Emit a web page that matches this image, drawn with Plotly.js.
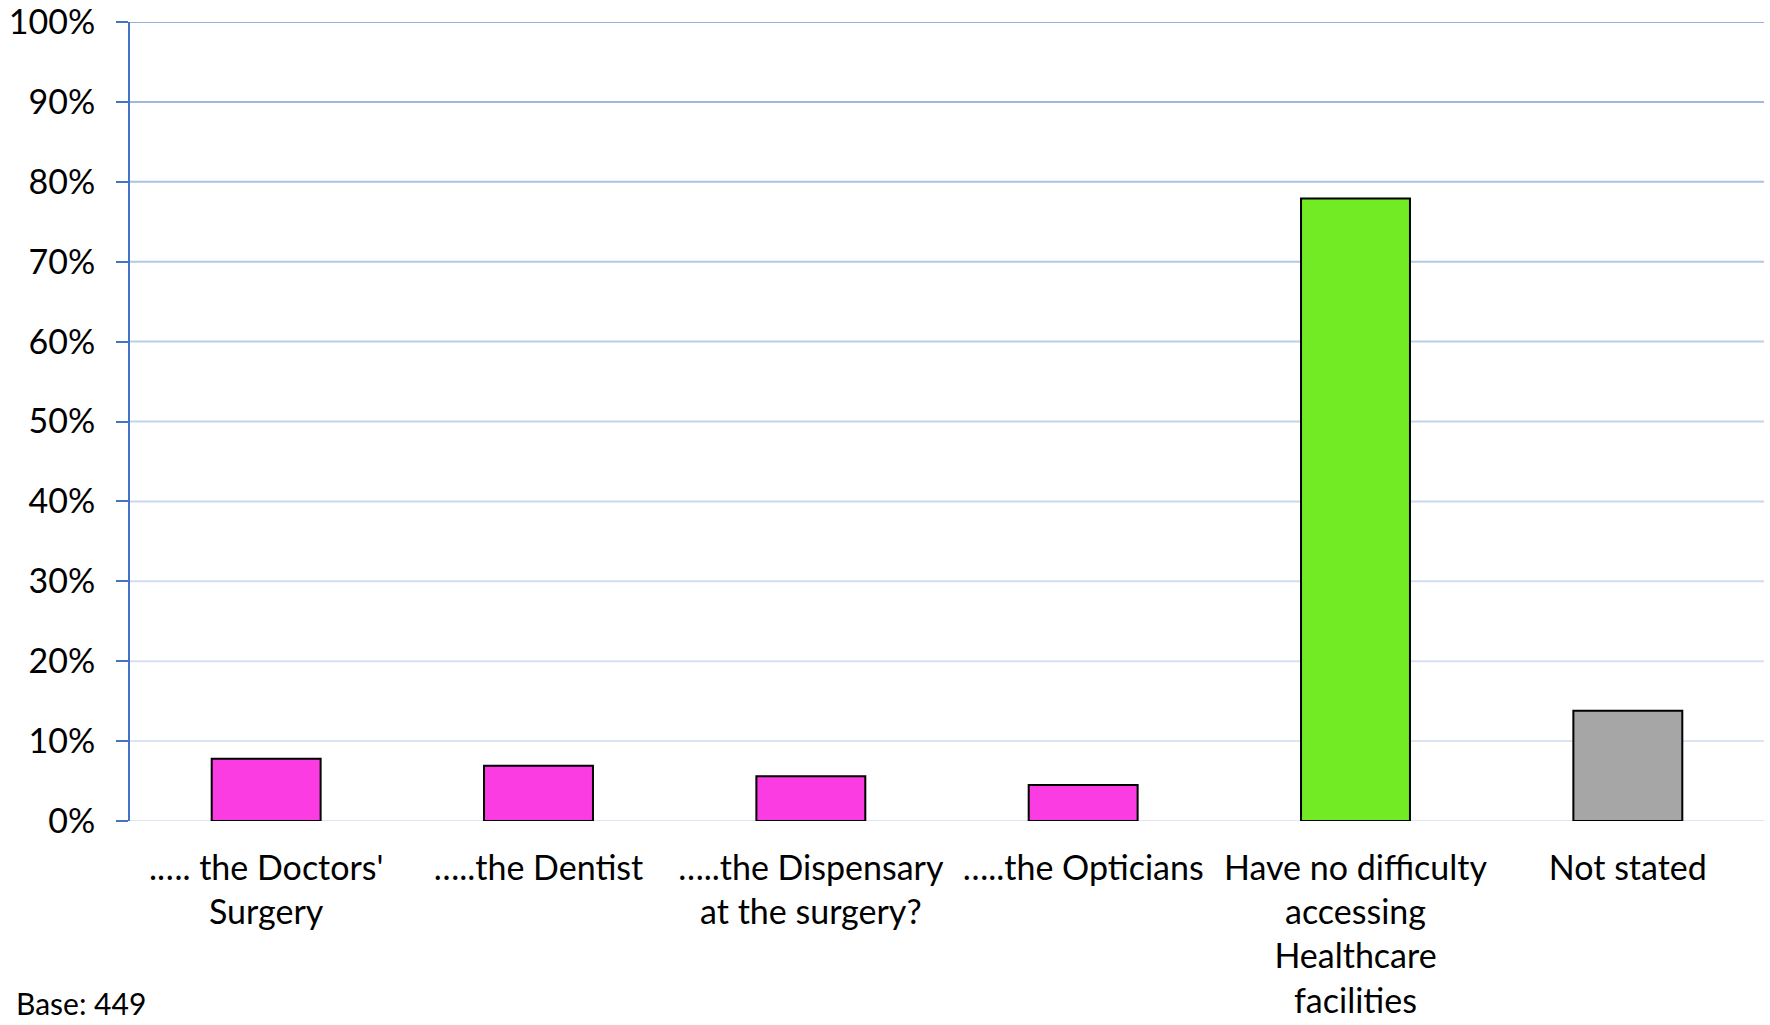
<!DOCTYPE html>
<html>
<head>
<meta charset="utf-8">
<script src="https://cdn.plot.ly/plotly-3.0.1.min.js"></script>
<style>html,body{margin:0;padding:0;background:#fff;}#chart{width:1770px;height:1025px;}</style>
</head>
<body>
<div id="chart"></div>
<script>
const categories = [".…. the Doctors'<br>Surgery", "…..the Dentist", "…..the Dispensary<br>at the surgery?", "…..the Opticians", "Have no difficulty<br>accessing<br>Healthcare<br>facilities", "Not stated"];
const values = [0.078, 0.069, 0.056, 0.045, 0.779, 0.138];
const barColors = ["#fa3ce2", "#fa3ce2", "#fa3ce2", "#fa3ce2", "#72ea24", "#a6a6a6"];
const yTicks = [0, 0.1, 0.2, 0.3, 0.4, 0.5, 0.6, 0.7, 0.8, 0.9, 1.0];
const gridColors = ["#dde6f4", "#dbe4f3", "#d6e0f2", "#d0dcf0", "#cad8ee", "#c4d3ec", "#bccdea", "#b4c7e7", "#aac0e4", "#a0b8e1", "#96b1de"];
const baseNote = "Base: 449";

const font = "Lato, 'Open Sans', sans-serif";
const shapes = yTicks.map((t, i) => ({
  type: "line", xref: "paper", yref: "y", x0: 0, x1: 1, y0: t, y1: t,
  line: {color: gridColors[i], width: 2}, layer: "below"
}));

Plotly.newPlot("chart", [{
  type: "bar",
  x: categories,
  y: values,
  marker: {color: barColors, line: {color: "#000000", width: 2}},
  hoverinfo: "skip"
}], {
  width: 1770, height: 1025,
  margin: {l: 130, r: 6, t: 22, b: 204},
  paper_bgcolor: "#ffffff", plot_bgcolor: "#ffffff",
  bargap: 0.6,
  showlegend: false,
  font: {family: font, size: 34, color: "#000000"},
  shapes: shapes,
  xaxis: {
    type: "category",
    showgrid: false, zeroline: false, showline: false,
    ticks: "", tickfont: {family: font, size: 34, color: "#000"},
    ticklabelstandoff: 24,
    ticklabeloverflow: "allow",
    automargin: false
  },
  yaxis: {
    range: [0, 1], tickvals: yTicks, tickformat: ".0%",
    showgrid: false, zeroline: false,
    showline: true, linecolor: "#4472c4", linewidth: 2,
    ticks: "outside", ticklen: 12, tickcolor: "#4472c4", tickwidth: 2,
    tickfont: {family: font, size: 34, color: "#000"},
    ticklabelstandoff: 14,
    ticklabeloverflow: "allow",
    automargin: false
  },
  annotations: [{
    text: baseNote, xref: "paper", yref: "paper", x: -0.071, y: -0.2528,
    xanchor: "left", yanchor: "bottom", showarrow: false,
    font: {family: font, size: 30, color: "#000"}
  }]
}, {staticPlot: true});
</script>
</body>
</html>
